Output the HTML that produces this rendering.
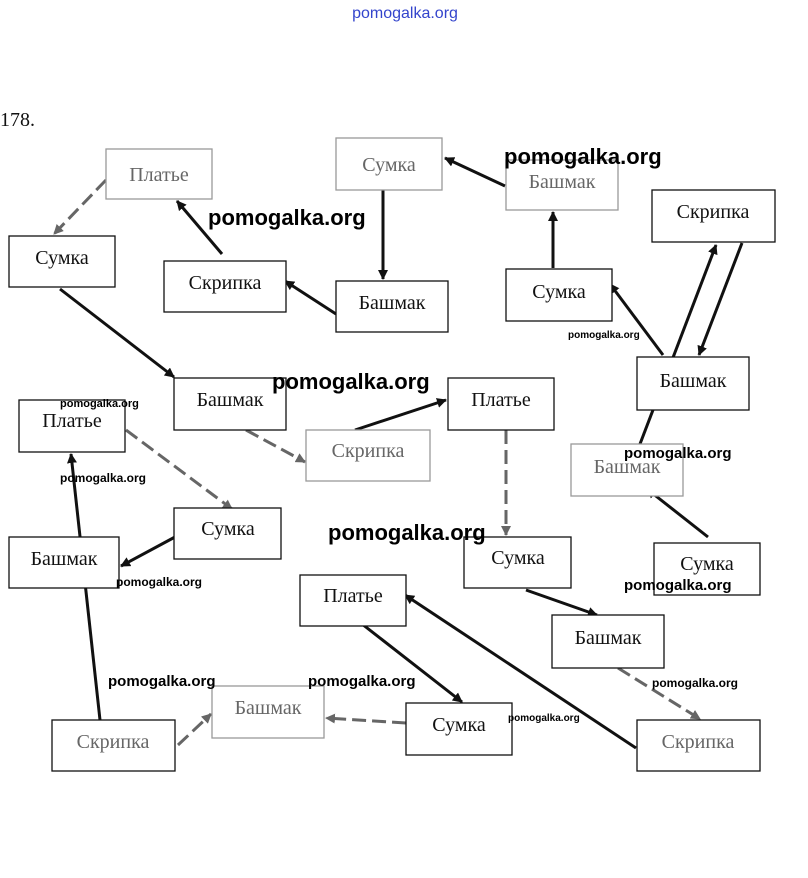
<!DOCTYPE html>
<html><head><meta charset="utf-8"><style>
html,body{margin:0;padding:0;background:#fff;}
svg{display:block;}
.b{fill:#fff;stroke:#111;stroke-width:1.3;}
.g{fill:#fff;stroke:#999;stroke-width:1.3;}
.t{font-family:"Liberation Serif",serif;font-size:20px;fill:#111;text-anchor:middle;}
.tg{font-family:"Liberation Serif",serif;font-size:20px;fill:#666;text-anchor:middle;}
.w{font-family:"Liberation Sans",sans-serif;font-weight:bold;fill:#000;}
.a{stroke:#111;stroke-width:3;fill:none;marker-end:url(#m);}
.d{stroke:#666;stroke-width:3;fill:none;stroke-dasharray:14 6;marker-end:url(#mg);}
</style></head><body>
<svg width="808" height="878" viewBox="0 0 808 878" xmlns="http://www.w3.org/2000/svg">
<defs>
<marker id="m" markerWidth="10" markerHeight="10" refX="9" refY="5" orient="auto" markerUnits="userSpaceOnUse"><path d="M0,0 L10,5 L0,10 z" fill="#111"/></marker>
<marker id="mg" markerWidth="10" markerHeight="10" refX="9" refY="5" orient="auto" markerUnits="userSpaceOnUse"><path d="M0,0 L10,5 L0,10 z" fill="#666"/></marker>
</defs>
<text x="405" y="18" font-family="Liberation Sans,sans-serif" font-size="16" fill="#3344cc" text-anchor="middle">pomogalka.org</text>
<text x="0" y="126" font-family="Liberation Serif,serif" font-size="20" fill="#111">178.</text>

<!-- arrows -->
<line class="d" x1="106" y1="180" x2="54" y2="234"/>
<line class="a" x1="222" y1="254" x2="177" y2="201"/>
<line class="a" x1="336" y1="314" x2="285" y2="281"/>
<line class="a" x1="383" y1="190" x2="383" y2="279"/>
<line class="a" x1="505" y1="186" x2="445" y2="158"/>
<line class="a" x1="553" y1="268" x2="553" y2="212"/>
<line class="a" x1="663" y1="355" x2="610" y2="284"/>
<line class="a" x1="742" y1="243" x2="699" y2="355"/>
<line class="a" x1="640" y1="444" x2="716" y2="245"/>
<line class="a" x1="60" y1="289" x2="174" y2="377"/>
<line class="d" x1="246" y1="430" x2="305" y2="462"/>
<line class="a" x1="355" y1="430" x2="446" y2="400"/>
<line class="d" x1="506" y1="430" x2="506" y2="535"/>
<line class="a" x1="708" y1="537" x2="647" y2="489"/>
<line class="d" x1="126" y1="430" x2="232" y2="509"/>
<line class="a" x1="175" y1="537" x2="121" y2="566"/>
<line class="a" x1="100" y1="720" x2="71" y2="454"/>
<line class="a" x1="526" y1="590" x2="597" y2="615"/>
<line class="d" x1="618" y1="668" x2="700" y2="719"/>
<line class="a" x1="636" y1="748" x2="405" y2="595"/>
<line class="a" x1="362" y1="624" x2="462" y2="702"/>
<line class="d" x1="406" y1="723" x2="326" y2="718"/>
<line class="d" x1="178" y1="745" x2="211" y2="714"/>

<!-- boxes -->
<rect class="g" x="106" y="149" width="106" height="50"/><text class="tg" x="159" y="181">Платье</text>
<rect class="g" x="336" y="138" width="106" height="52"/><text class="tg" x="389" y="171">Сумка</text>
<rect class="g" x="506" y="160" width="112" height="50"/><text class="tg" x="562" y="188">Башмак</text>
<rect class="b" x="652" y="190" width="123" height="52"/><text class="t" x="713" y="218">Скрипка</text>
<rect class="b" x="9" y="236" width="106" height="51"/><text class="t" x="62" y="264">Сумка</text>
<rect class="b" x="164" y="261" width="122" height="51"/><text class="t" x="225" y="289">Скрипка</text>
<rect class="b" x="336" y="281" width="112" height="51"/><text class="t" x="392" y="309">Башмак</text>
<rect class="b" x="506" y="269" width="106" height="52"/><text class="t" x="559" y="298">Сумка</text>
<rect class="b" x="637" y="357" width="112" height="53"/><text class="t" x="693" y="387">Башмак</text>
<rect class="b" x="174" y="378" width="112" height="52"/><text class="t" x="230" y="406">Башмак</text>
<rect class="b" x="448" y="378" width="106" height="52"/><text class="t" x="501" y="406">Платье</text>
<rect class="b" x="19" y="400" width="106" height="52"/><text class="t" x="72" y="427">Платье</text>
<rect class="g" x="306" y="430" width="124" height="51"/><text class="tg" x="368" y="457">Скрипка</text>
<rect class="g" x="571" y="444" width="112" height="52"/><text class="tg" x="627" y="473">Башмак</text>
<rect class="b" x="174" y="508" width="107" height="51"/><text class="t" x="228" y="535">Сумка</text>
<rect class="b" x="9" y="537" width="110" height="51"/><text class="t" x="64" y="565">Башмак</text>
<rect class="b" x="464" y="537" width="107" height="51"/><text class="t" x="518" y="564">Сумка</text>
<rect class="b" x="654" y="543" width="106" height="52"/><text class="t" x="707" y="570">Сумка</text>
<rect class="b" x="300" y="575" width="106" height="51"/><text class="t" x="353" y="602">Платье</text>
<rect class="b" x="552" y="615" width="112" height="53"/><text class="t" x="608" y="644">Башмак</text>
<rect class="g" x="212" y="686" width="112" height="52"/><text class="tg" x="268" y="714">Башмак</text>
<rect class="b" x="406" y="703" width="106" height="52"/><text class="t" x="459" y="731">Сумка</text>
<rect class="b" x="52" y="720" width="123" height="51"/><text class="tg" x="113" y="748">Скрипка</text>
<rect class="b" x="637" y="720" width="123" height="51"/><text class="tg" x="698" y="748">Скрипка</text>

<!-- watermarks -->
<text class="w" x="504" y="164" font-size="22">pomogalka.org</text>
<text class="w" x="208" y="225" font-size="22">pomogalka.org</text>
<text class="w" x="568" y="338" font-size="10">pomogalka.org</text>
<text class="w" x="272" y="389" font-size="22">pomogalka.org</text>
<text class="w" x="60" y="407" font-size="11">pomogalka.org</text>
<text class="w" x="624" y="458" font-size="15">pomogalka.org</text>
<text class="w" x="60" y="482" font-size="12">pomogalka.org</text>
<text class="w" x="328" y="540" font-size="22">pomogalka.org</text>
<text class="w" x="116" y="586" font-size="12">pomogalka.org</text>
<text class="w" x="624" y="590" font-size="15">pomogalka.org</text>
<text class="w" x="108" y="686" font-size="15">pomogalka.org</text>
<text class="w" x="308" y="686" font-size="15">pomogalka.org</text>
<text class="w" x="652" y="687" font-size="12">pomogalka.org</text>
<text class="w" x="508" y="721" font-size="10">pomogalka.org</text>
</svg>
</body></html>
